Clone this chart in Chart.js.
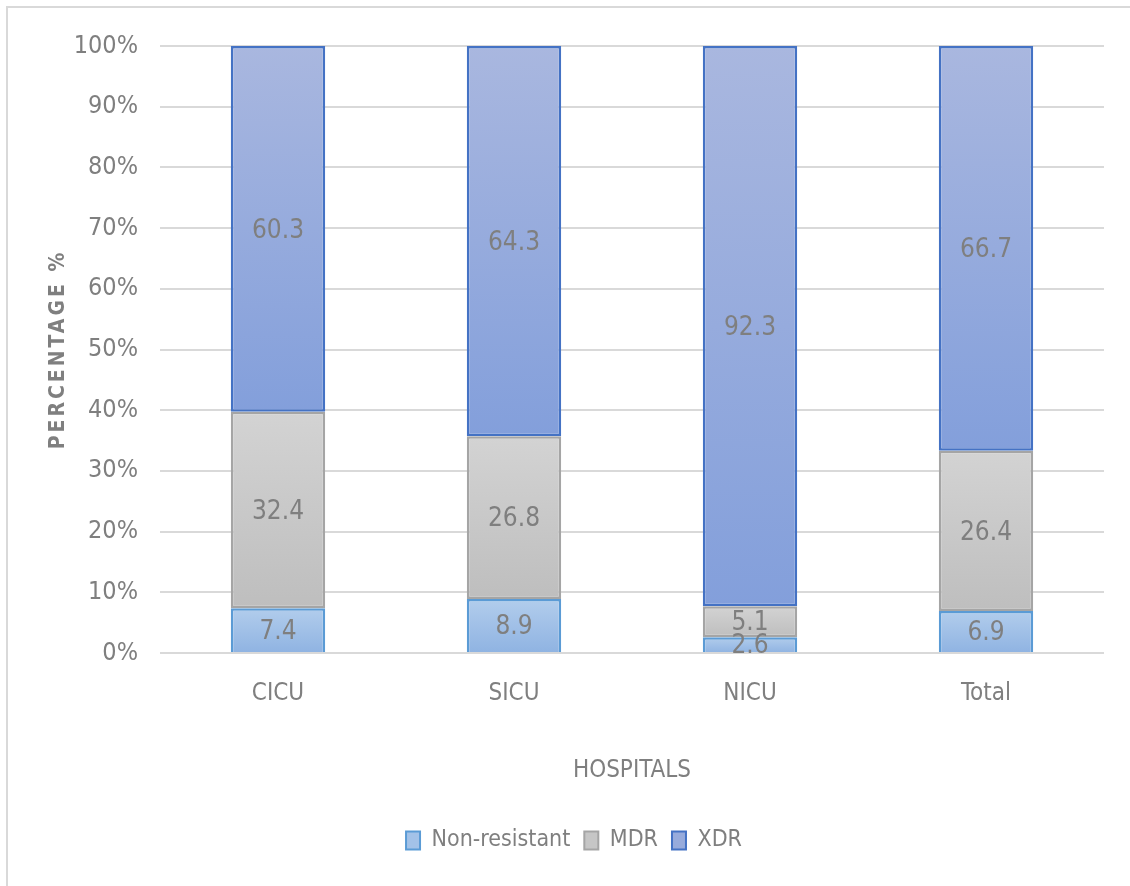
<!DOCTYPE html>
<html>
<head>
<meta charset="utf-8">
<title>Resistance by unit</title>
<script src="https://cdn.jsdelivr.net/npm/chart.js@4.4.1/dist/chart.umd.min.js"></script>
<style>
  html, body { margin: 0; padding: 0; background: #fff; overflow: hidden; }
  #wrap { position: relative; width: 1130px; height: 886px; }
  #frame { position: absolute; left: 6px; top: 6px; width: 1140px; height: 900px; border: 2px solid #d9d9d9; box-sizing: border-box; }
  canvas { position: absolute; left: 0; top: 0; }
</style>
</head>
<body>
<div id="wrap">
  <div id="frame"></div>
  <canvas id="myChart" width="1130" height="886"></canvas>
</div>
<script>
const labels = ['CICU', 'SICU', 'NICU', 'Total'];
const nonResistant = [7.4, 8.9, 2.6, 6.9];
const mdr = [32.4, 26.8, 5.1, 26.4];
const xdr = [60.3, 64.3, 92.3, 66.7];

const FONT = '"DejaVu Sans Condensed", "Roboto", sans-serif';
const GREY = '#7f7f7f';

// 100% stacked: each column scaled by its own total
const totals = labels.map((_, i) => nonResistant[i] + mdr[i] + xdr[i]);
const share = arr => arr.map((v, i) => v / totals[i] * 100);
const series = [share(nonResistant), share(mdr), share(xdr)];

// vertical gradient over each stacked segment
function segmentFill(top, bottom) {
    return function(ctx) {
        const chart = ctx.chart;
        if (!chart.chartArea || ctx.type !== 'data') return bottom;
        const y = chart.scales.y;
        let base = 0;
        for (let k = 0; k < ctx.datasetIndex; k++) base += series[k][ctx.dataIndex];
        const val = series[ctx.datasetIndex][ctx.dataIndex];
        const y0 = y.getPixelForValue(base + val);
        const y1 = y.getPixelForValue(base);
        if (!isFinite(y0) || !isFinite(y1) || y0 === y1) return bottom;
        const g = chart.ctx.createLinearGradient(0, y0, 0, y1);
        g.addColorStop(0, top);
        g.addColorStop(1, bottom);
        return g;
    };
}

const valueLabels = {
    id: 'valueLabels',
    afterDatasetsDraw(chart) {
        const c = chart.ctx;
        c.save();
        c.font = '26px ' + FONT;
        c.fillStyle = GREY;
        c.textAlign = 'center';
        c.textBaseline = 'middle';
        chart.data.datasets.forEach((ds, i) => {
            chart.getDatasetMeta(i).data.forEach((bar, j) => {
                const p = bar.getProps(['x', 'y', 'base'], true);
                c.fillText(ds.raw[j].toFixed(1), p.x, (p.y + p.base) / 2 + 2);
            });
        });
        c.restore();
    }
};

// spaced-out axis title on the left
const yTitle = {
    id: 'yTitle',
    afterDraw(chart) {
        const c = chart.ctx;
        const area = chart.chartArea;
        c.save();
        c.translate(59, (area.top + area.bottom) / 2);
        c.rotate(-Math.PI / 2);
        c.font = 'bold 21px ' + FONT;
        c.letterSpacing = '3px';
        c.fillStyle = GREY;
        c.textAlign = 'center';
        c.textBaseline = 'middle';
        c.fillText('PERCENTAGE %', 0, 0);
        c.restore();
    }
};

const data = {
    labels: labels,
    datasets: [{
        label: 'Non-resistant',
        raw: nonResistant,
        data: series[0],
        backgroundColor: segmentFill('#b2cdec', '#8fb3e2'),
        legendFill: '#a3c2e8',
        borderColor: '#5b9bd5',
        borderWidth: 2.5,
        borderSkipped: 'start'
    }, {
        label: 'MDR',
        raw: mdr,
        data: series[1],
        backgroundColor: segmentFill('#d3d3d3', '#bebebe'),
        legendFill: '#c6c6c6',
        borderColor: '#a5a5a5',
        borderWidth: 2.5,
        borderSkipped: false
    }, {
        label: 'XDR',
        raw: xdr,
        data: series[2],
        backgroundColor: segmentFill('#a9b7df', '#839fdb'),
        legendFill: '#97abdc',
        borderColor: '#4472c4',
        borderWidth: 2.5,
        borderSkipped: false
    }]
};

const config = {
    type: 'bar',
    data,
    options: {
        responsive: false,
        animation: false,
        categoryPercentage: 1,
        barPercentage: 0.4,
        layout: { padding: { top: 46, right: 26, bottom: 24, left: 44 } },
        plugins: {
            tooltip: { enabled: false },
            legend: {
                position: 'bottom',
                labels: {
                    color: GREY,
                    font: { family: FONT, size: 23 },
                    boxWidth: 14,
                    boxHeight: 18,
                    padding: 14,
                    generateLabels(chart) {
                        const items = Chart.defaults.plugins.legend.labels.generateLabels(chart);
                        items.forEach(it => {
                            it.fillStyle = chart.data.datasets[it.datasetIndex].legendFill;
                            it.lineWidth = 2;
                        });
                        return items;
                    }
                }
            }
        },
        scales: {
            x: {
                stacked: true,
                grid: { display: false },
                border: { display: false },
                ticks: { color: GREY, font: { family: FONT, size: 24 }, padding: 18 },
                title: {
                    display: true,
                    text: 'HOSPITALS',
                    color: GREY,
                    font: { family: FONT, size: 24 },
                    padding: { top: 0, bottom: 30 }
                },
                afterFit(scale) { scale.height = 162; }
            },
            y: {
                stacked: true,
                min: 0,
                max: 100,
                ticks: {
                    stepSize: 10,
                    color: GREY,
                    font: { family: FONT, size: 25 },
                    padding: 22,
                    callback: v => v + '%'
                },
                grid: { color: '#d9d9d9', lineWidth: 2, drawTicks: false },
                border: { display: false },
                afterFit(scale) { scale.width = 116; }
            }
        }
    },
    plugins: [valueLabels, yTitle]
};

var myChart = new Chart(document.getElementById('myChart'), config);
</script>
</body>
</html>
